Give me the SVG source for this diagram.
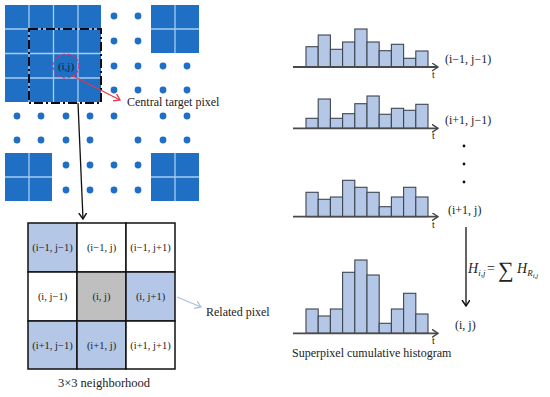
<svg xmlns="http://www.w3.org/2000/svg" width="550" height="397" viewBox="0 0 550 397">
<defs>
<style>
.blk{fill:#1F6FC4}
.sep{stroke:#A8CDF0;stroke-width:1.3}
.dot{fill:#1F6FC4}
text{font-family:'Liberation Serif','Times New Roman','DejaVu Serif',serif;fill:#222}
.cell{stroke:#111;stroke-width:1.5}
.bar{fill:#B4C7E7;stroke:#3E4650;stroke-width:1.1}
.axis{stroke:#4A4A4A;stroke-width:1.8;fill:none}
</style>
<marker id="ak" markerWidth="10" markerHeight="10" refX="6" refY="4" orient="auto" markerUnits="userSpaceOnUse"><path d="M0,0 L6,4 L0,8" fill="none" stroke="#111" stroke-width="1.5"/></marker>
<marker id="ar" markerWidth="10" markerHeight="10" refX="6" refY="4" orient="auto" markerUnits="userSpaceOnUse"><path d="M0,0 L6,4 L0,8" fill="none" stroke="#E8334A" stroke-width="1.3"/></marker>
<marker id="ab" markerWidth="10" markerHeight="10" refX="6" refY="4" orient="auto" markerUnits="userSpaceOnUse"><path d="M0,0 L6,4 L0,8" fill="none" stroke="#A9C0E0" stroke-width="1.3"/></marker>
<marker id="ax" markerWidth="10" markerHeight="10" refX="6" refY="4" orient="auto" markerUnits="userSpaceOnUse"><path d="M0,0 L6,4 L0,8" fill="none" stroke="#4A4A4A" stroke-width="1.4"/></marker>
</defs>
<rect width="550" height="397" fill="#fff"/>

<g id="pixel-grid">
<rect class="blk" x="5" y="5" width="96" height="97"/>
<line class="sep" x1="29" y1="5" x2="29" y2="102"/>
<line class="sep" x1="53.5" y1="5" x2="53.5" y2="102"/>
<line class="sep" x1="78" y1="5" x2="78" y2="102"/>
<line class="sep" x1="5" y1="29" x2="101" y2="29"/>
<line class="sep" x1="5" y1="53.5" x2="101" y2="53.5"/>
<line class="sep" x1="5" y1="78" x2="101" y2="78"/>
<rect class="blk" x="151" y="5" width="48" height="48"/>
<line class="sep" x1="175" y1="5" x2="175" y2="53"/>
<line class="sep" x1="151" y1="29" x2="199" y2="29"/>
<rect class="blk" x="5" y="153" width="47" height="48"/>
<line class="sep" x1="29" y1="153" x2="29" y2="201"/>
<line class="sep" x1="5" y1="177" x2="52" y2="177"/>
<rect class="blk" x="151" y="153" width="48" height="48"/>
<line class="sep" x1="175" y1="153" x2="175" y2="201"/>
<line class="sep" x1="151" y1="177" x2="199" y2="177"/>
<g class="dot">
<circle cx="114" cy="16" r="3.4"/><circle cx="138" cy="16" r="3.4"/>
<circle cx="114" cy="41" r="3.4"/><circle cx="138" cy="41" r="3.4"/>
<circle cx="114" cy="66" r="3.4"/><circle cx="138" cy="66" r="3.4"/><circle cx="163" cy="66" r="3.4"/><circle cx="187" cy="66" r="3.4"/>
<circle cx="114" cy="90" r="3.4"/><circle cx="138" cy="90" r="3.4"/><circle cx="163" cy="90" r="3.4"/><circle cx="187" cy="90" r="3.4"/>
<circle cx="17" cy="116" r="3.4"/><circle cx="41" cy="116" r="3.4"/><circle cx="66" cy="116" r="3.4"/><circle cx="90" cy="116" r="3.4"/><circle cx="114" cy="116" r="3.4"/><circle cx="163" cy="116" r="3.4"/><circle cx="187" cy="116" r="3.4"/>
<circle cx="17" cy="140" r="3.4"/><circle cx="41" cy="140" r="3.4"/><circle cx="66" cy="140" r="3.4"/><circle cx="90" cy="140" r="3.4"/><circle cx="138" cy="140" r="3.4"/><circle cx="163" cy="140" r="3.4"/><circle cx="187" cy="140" r="3.4"/>
<circle cx="66" cy="165" r="3.4"/><circle cx="90" cy="165" r="3.4"/><circle cx="114" cy="165" r="3.4"/><circle cx="138" cy="165" r="3.4"/>
<circle cx="66" cy="190" r="3.4"/><circle cx="90" cy="190" r="3.4"/><circle cx="114" cy="190" r="3.4"/><circle cx="138" cy="190" r="3.4"/>
</g>
<rect x="29" y="29" width="72" height="74" fill="none" stroke="#0A0A14" stroke-width="2" stroke-dasharray="9 3 2 3"/>
<ellipse cx="66" cy="66" rx="13" ry="12" fill="none" stroke="#E0306A" stroke-width="1.2" stroke-dasharray="3 2"/>
<text x="66" y="70" font-size="11" text-anchor="middle" font-family="'Liberation Serif', serif" style="fill:#0B1F4A">(i,j)</text>
</g>

<g id="label-central">
<text x="127" y="106" font-size="12" font-family="'Liberation Serif', serif">Central target pixel</text>
</g>

<g id="neighborhood">
<rect x="28" y="223" width="49" height="49" fill="#B4C7E7" class="cell"/>
<rect x="77" y="223" width="49" height="49" fill="#fff" class="cell"/>
<rect x="126" y="223" width="49" height="49" fill="#fff" class="cell"/>
<rect x="28" y="272" width="49" height="49" fill="#fff" class="cell"/>
<rect x="77" y="272" width="49" height="49" fill="#BFBFBF" class="cell"/>
<rect x="126" y="272" width="49" height="49" fill="#B4C7E7" class="cell"/>
<rect x="28" y="321" width="49" height="48" fill="#B4C7E7" class="cell"/>
<rect x="77" y="321" width="49" height="48" fill="#B4C7E7" class="cell"/>
<rect x="126" y="321" width="49" height="48" fill="#fff" class="cell"/>
<g font-size="10.5" text-anchor="middle" font-family="'Liberation Serif', serif">
<text x="52.5" y="251">(i−1, j−1)</text>
<text x="101.5" y="251">(i−1, j)</text>
<text x="150.5" y="251">(i−1, j+1)</text>
<text x="52.5" y="300">(i, j−1)</text>
<text x="101.5" y="300">(i, j)</text>
<text x="150.5" y="300">(i, j+1)</text>
<text x="52.5" y="349">(i+1, j−1)</text>
<text x="101.5" y="349">(i+1, j)</text>
<text x="150.5" y="349">(i+1, j+1)</text>
</g>
<text x="104" y="387" font-size="12.5" text-anchor="middle" font-family="'Liberation Serif', serif">3×3 neighborhood</text>
</g>

<g id="label-related">
<text x="206" y="316" font-size="12" font-family="'Liberation Serif', serif">Related pixel</text>
</g>

<g id="hist1" transform="translate(0,67)" font-family="'Liberation Serif', serif">
<rect class="bar" x="306" y="-20.3" width="12.2" height="20.3"/>
<rect class="bar" x="318.2" y="-32" width="12.2" height="32"/>
<rect class="bar" x="330.4" y="-17.7" width="12.2" height="17.7"/>
<rect class="bar" x="342.6" y="-25" width="12.2" height="25"/>
<rect class="bar" x="354.8" y="-38" width="12.2" height="38"/>
<rect class="bar" x="367" y="-25" width="12.2" height="25"/>
<rect class="bar" x="379.2" y="-16.3" width="12.2" height="16.3"/>
<rect class="bar" x="391.4" y="-22.7" width="12.2" height="22.7"/>
<rect class="bar" x="403.6" y="-8.7" width="12.2" height="8.7"/>
<rect class="bar" x="415.8" y="-16" width="12.2" height="16"/>
<line class="axis" x1="293" y1="0" x2="438" y2="0" marker-end="url(#ax)"/>
<text x="432" y="11" font-size="10">t</text>
<text x="445" y="-4" font-size="12">(i−1, j−1)</text>
</g>

<g id="hist2" transform="translate(0,128.3)" font-family="'Liberation Serif', serif">
<rect class="bar" x="306" y="-10" width="12.2" height="10"/>
<rect class="bar" x="318.2" y="-29.3" width="12.2" height="29.3"/>
<rect class="bar" x="330.4" y="-10" width="12.2" height="10"/>
<rect class="bar" x="342.6" y="-14.6" width="12.2" height="14.6"/>
<rect class="bar" x="354.8" y="-24.6" width="12.2" height="24.6"/>
<rect class="bar" x="367" y="-32.3" width="12.2" height="32.3"/>
<rect class="bar" x="379.2" y="-14" width="12.2" height="14"/>
<rect class="bar" x="391.4" y="-20" width="12.2" height="20"/>
<rect class="bar" x="403.6" y="-18" width="12.2" height="18"/>
<rect class="bar" x="415.8" y="-24" width="12.2" height="24"/>
<line class="axis" x1="293" y1="0" x2="438" y2="0" marker-end="url(#ax)"/>
<text x="432" y="11" font-size="10">t</text>
<text x="445" y="-4" font-size="12">(i+1, j−1)</text>
</g>

<g id="ellipsis-dots" fill="#111">
<circle cx="464" cy="146" r="1.4"/>
<circle cx="464" cy="164" r="1.4"/>
<circle cx="464" cy="182" r="1.4"/>
</g>

<g id="hist3" transform="translate(0,216.7)" font-family="'Liberation Serif', serif">
<rect class="bar" x="306" y="-24.4" width="12.2" height="24.4"/>
<rect class="bar" x="318.2" y="-17.4" width="12.2" height="17.4"/>
<rect class="bar" x="330.4" y="-19.7" width="12.2" height="19.7"/>
<rect class="bar" x="342.6" y="-36.4" width="12.2" height="36.4"/>
<rect class="bar" x="354.8" y="-29.4" width="12.2" height="29.4"/>
<rect class="bar" x="367" y="-24.4" width="12.2" height="24.4"/>
<rect class="bar" x="379.2" y="-10" width="12.2" height="10"/>
<rect class="bar" x="391.4" y="-19.7" width="12.2" height="19.7"/>
<rect class="bar" x="403.6" y="-29.4" width="12.2" height="29.4"/>
<rect class="bar" x="415.8" y="-19.7" width="12.2" height="19.7"/>
<line class="axis" x1="293" y1="0" x2="438" y2="0" marker-end="url(#ax)"/>
<text x="432" y="11" font-size="10">t</text>
<text x="448" y="-3" font-size="12">(i+1, j)</text>
</g>

<g id="hist4" transform="translate(0,333.3)" font-family="'Liberation Serif', serif">
<rect class="bar" x="306" y="-24.3" width="12.2" height="24.3"/>
<rect class="bar" x="318.2" y="-17.3" width="12.2" height="17.3"/>
<rect class="bar" x="330.4" y="-24.3" width="12.2" height="24.3"/>
<rect class="bar" x="342.6" y="-61" width="12.2" height="61"/>
<rect class="bar" x="354.8" y="-73.3" width="12.2" height="73.3"/>
<rect class="bar" x="367" y="-58.3" width="12.2" height="58.3"/>
<rect class="bar" x="379.2" y="-10" width="12.2" height="10"/>
<rect class="bar" x="391.4" y="-24.3" width="12.2" height="24.3"/>
<rect class="bar" x="403.6" y="-40" width="12.2" height="40"/>
<rect class="bar" x="415.8" y="-19.3" width="12.2" height="19.3"/>
<line class="axis" x1="293" y1="0" x2="438" y2="0" marker-end="url(#ax)"/>
<text x="432" y="11" font-size="10">t</text>
<text x="455" y="-4" font-size="12">(i, j)</text>
</g>

<g id="label-superpixel">
<text x="292" y="357" font-size="12" font-family="'Liberation Serif', serif">Superpixel cumulative histogram</text>
</g>

<g id="formula" font-family="'Liberation Serif', serif">
<text x="468" y="273" font-size="14"><tspan font-style="italic">H</tspan><tspan font-size="9" font-style="italic" dy="3">i,j</tspan></text>
<text x="487" y="273" font-size="14">=</text>
<text x="498" y="277" font-size="22">∑</text>
<text x="517" y="273" font-size="14"><tspan font-style="italic">H</tspan><tspan font-size="9" font-style="italic" dy="3">R</tspan><tspan font-size="7" font-style="italic" dy="2">i,j</tspan></text>
</g>

<g id="connectors">
<line x1="73" y1="76" x2="120" y2="100" stroke="#E8334A" stroke-width="1.2" marker-end="url(#ar)"/>
<line x1="78" y1="103" x2="83" y2="219" stroke="#111" stroke-width="1.3" marker-end="url(#ak)"/>
<line x1="177" y1="297" x2="201" y2="307" stroke="#A9C0E0" stroke-width="1.3" marker-end="url(#ab)"/>
<line x1="466" y1="227" x2="466" y2="306" stroke="#111" stroke-width="1.3" marker-end="url(#ak)"/>
</g>
</svg>
